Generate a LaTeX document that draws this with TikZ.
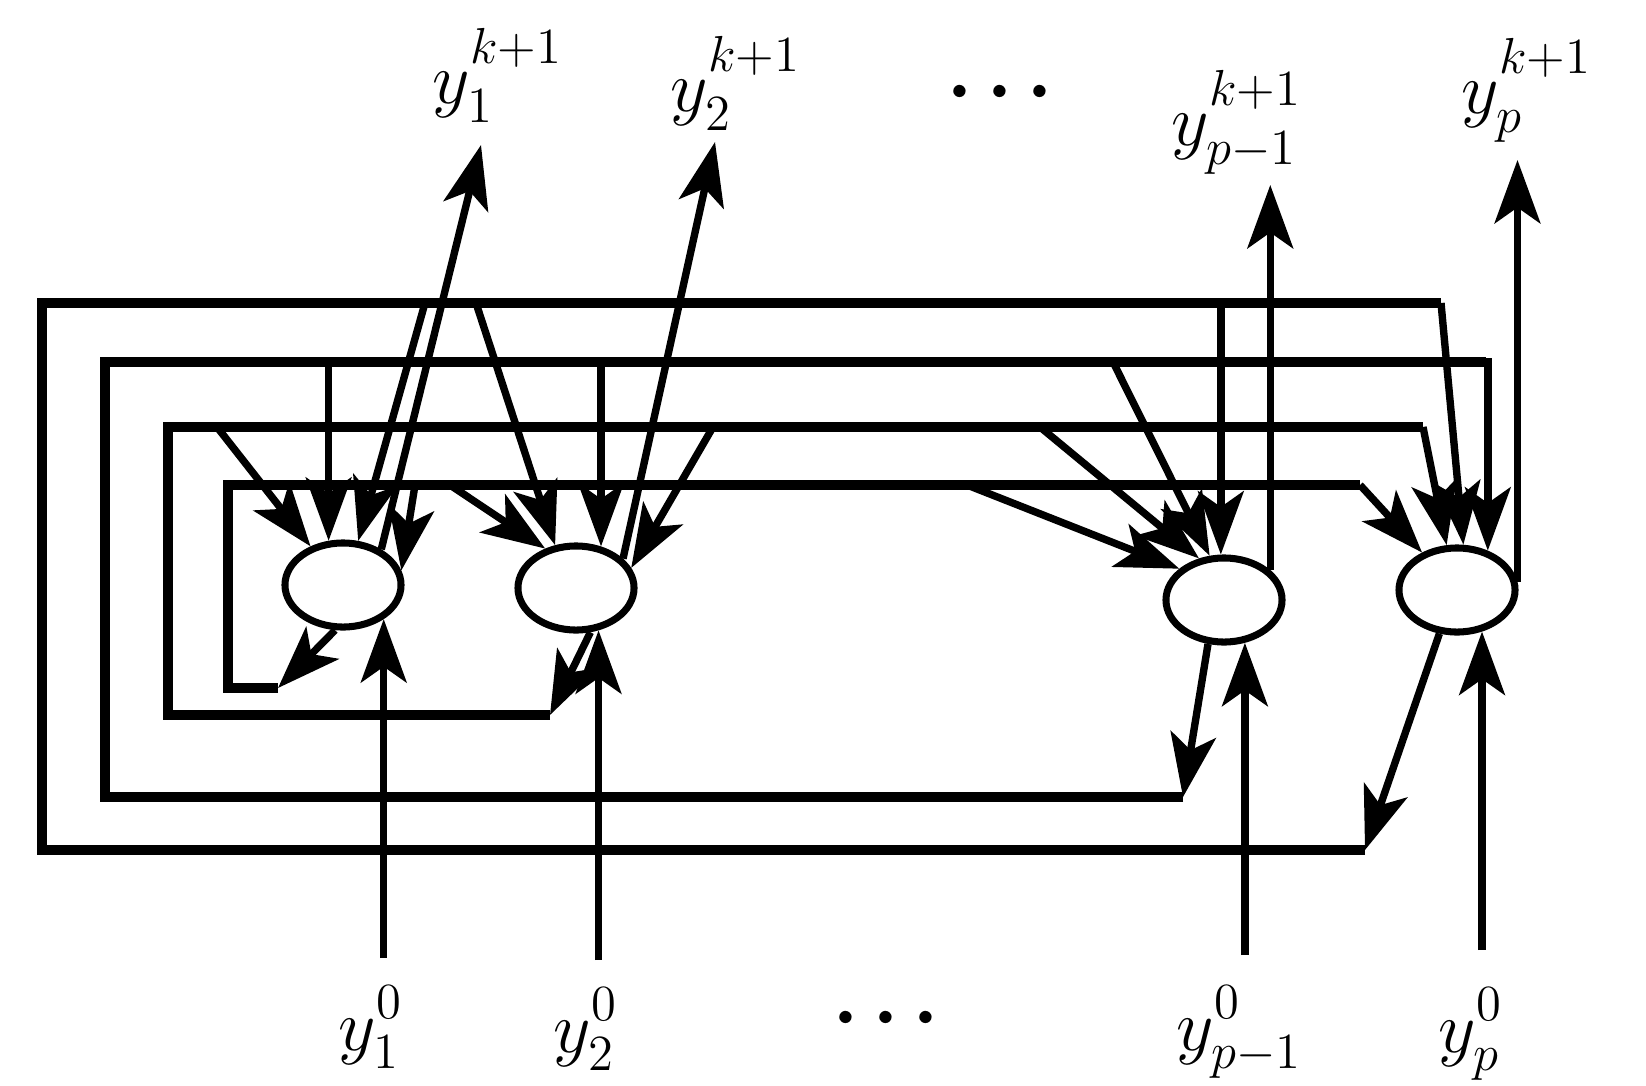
\documentclass[tikz,border=0pt]{standalone}
\usepackage{amsmath}
\usetikzlibrary{arrows.meta,shapes.geometric}
\newcommand{\hi}[2][4pt]{\raisebox{#1}{$\scriptstyle #2$}}
\newcommand{\bigdots}{\textbullet\kern1.5pt\textbullet\kern1.5pt\textbullet}
\tikzset{
    neuron/.style={ellipse,draw,line width=2pt,minimum width=1.16cm,minimum height=0.84cm,inner sep=0pt},
    wire/.style={line width=2.1pt},
    loopline/.style={line width=2.6pt},
    arr/.style={wire,-{Stealth[length=18pt,width=13pt,inset=4.5pt]}},
    lab/.style={inner sep=0pt,anchor=base west,font=\fontsize{20.74}{25}\selectfont},
    dotlab/.style={inner sep=0pt,font=\fontsize{13}{14}\selectfont},
}

\begin{document}
\begin{tikzpicture}[x=0.01cm,y=-0.01cm]
        \useasboundingbox (0,0) rectangle (1646,1085);
        % neurons
        \node[neuron] (n1) at (343,585) {};
        \node[neuron] (n2) at (576,588) {};
        \node[neuron] (n3) at (1224,600) {};
        \node[neuron] (n4) at (1457,590) {};
        % labels
        \node[lab] (out1) at (432,104) {$y_1^{\hi{k+1}}$};
        \node[lab] (out2) at (670,112) {$y_2^{\hi{k+1}}$};
        \node[dotlab] (dots1) at (1000,94) {\bigdots};
        \node[lab] (out3) at (1171,146) {$y_{p-1}^{\hi{k+1}}$};
        \node[lab] (out4) at (1461,114) {$y_p^{\hi{k+1}}$};
        \node[lab] (in1) at (338,1050) {$y_1^{\hi[1.5pt]{0}}$};
        \node[lab] (in2) at (553,1052) {$y_2^{\hi[1.5pt]{0}}$};
        \node[dotlab] (dots2) at (886,1020) {\bigdots};
        \node[lab] (in3) at (1176,1050) {$y_{p-1}^{\hi[1.5pt]{0}}$};
        \node[lab] (in4) at (1438,1052) {$y_p^{\hi[1.5pt]{0}}$};
        % ends of the outputs and inputs
        \coordinate (t1) at (481,145);
        \coordinate (t2) at (715,142);
        \coordinate (t3) at (1270,185);
        \coordinate (t4) at (1520,160);
        \coordinate (s1) at (381,958);
        \coordinate (s2) at (597,960);
        \coordinate (s3) at (1243,955);
        \coordinate (s4) at (1480,950);
        % feedback loops
        \coordinate (a1) at (278,688);
        \coordinate (a2) at (228,688);
        \coordinate (a3) at (228,485);
        \coordinate (a4) at (1360,485);
        \coordinate (b1) at (550,715);
        \coordinate (b2) at (168,715);
        \coordinate (b3) at (168,427);
        \coordinate (b4) at (1423,427);
        \coordinate (c1) at (1183,797);
        \coordinate (c2) at (105,797);
        \coordinate (c3) at (105,362);
        \coordinate (c4) at (1486,362);
        \coordinate (d1) at (1365,850);
        \coordinate (d2) at (42,850);
        \coordinate (d3) at (42,303);
        \coordinate (d4) at (1441,303);
        % taps on the loops
        \coordinate (ta1) at (415,485);
        \coordinate (ta2) at (450,485);
        \coordinate (ta3) at (967,485);
        \coordinate (tb1) at (217,427);
        \coordinate (tb2) at (713,427);
        \coordinate (tb3) at (1040,427);
        \coordinate (tc1) at (n1.108 |- c3);
        \coordinate (tc2) at (n2.59 |- c3);
        \coordinate (tc3) at (1113,362);
        \coordinate (td1) at (425,303);
        \coordinate (td2) at (476,303);
        \coordinate (td3) at (n3.94 |- d3);

        \draw[loopline] (a1) -- (a2) -- (a3) -- (a4);
        \draw[loopline] (b1) -- (b2) -- (b3) -- (b4);
        \draw[loopline] (c1) -- (c2) -- (c3) -- (c4);
        \draw[loopline] (d1) -- (d2) -- (d3) -- (d4);

        % outputs into the loops
        \draw[arr] (n1.-100) -- (a1);
        \draw[arr] (n2.-72) -- (b1);
        \draw[arr] (n3.-110) -- (c1);
        \draw[arr] (n4.-112) -- (d1);

        % loop A
        \draw[arr] (ta1) -- (n1.14);
        \draw[arr] (ta2) -- (n2.128);
        \draw[arr] (ta3) -- (n3.145);
        \draw[arr] (a4) -- (n4.133);
        % loop B
        \draw[arr] (tb1) -- (n1.130);
        \draw[arr] (tb2) -- (n2.20);
        \draw[arr] (tb3) -- (n3.121);
        \draw[arr] (b4) -- (n4.103);
        % loop C
        \draw[arr] (tc1) -- (n1.108);
        \draw[arr] (tc2) -- (n2.59);
        \draw[arr] (tc3) -- (n3.108);
        \draw[arr] (c4) -- (n4.52 |- c4) -- (n4.52);
        % loop D
        \draw[arr] (td1) -- (n1.71);
        \draw[arr] (td2) -- (n2.116);
        \draw[arr] (td3) -- (n3.94);
        \draw[arr] (d4) -- (n4.82);

        % outputs y^{k+1}
        \draw[arr] (n1.43) -- (t1);
        \draw[arr] (n2.32) -- (t2);
        \draw[arr] (n3.33) -- (n3.33 |- t3);
        \draw[arr] (n4.8) -- (n4.8 |- t4);
        % inputs y^0
        \draw[arr] (n1.-40 |- s1) -- (n1.-40);
        \draw[arr] (n2.-62 |- s2) -- (n2.-62);
        \draw[arr] (n3.-64 |- s3) -- (n3.-64);
        \draw[arr] (n4.-59 |- s4) -- (n4.-59);
\end{tikzpicture}
\end{document}
